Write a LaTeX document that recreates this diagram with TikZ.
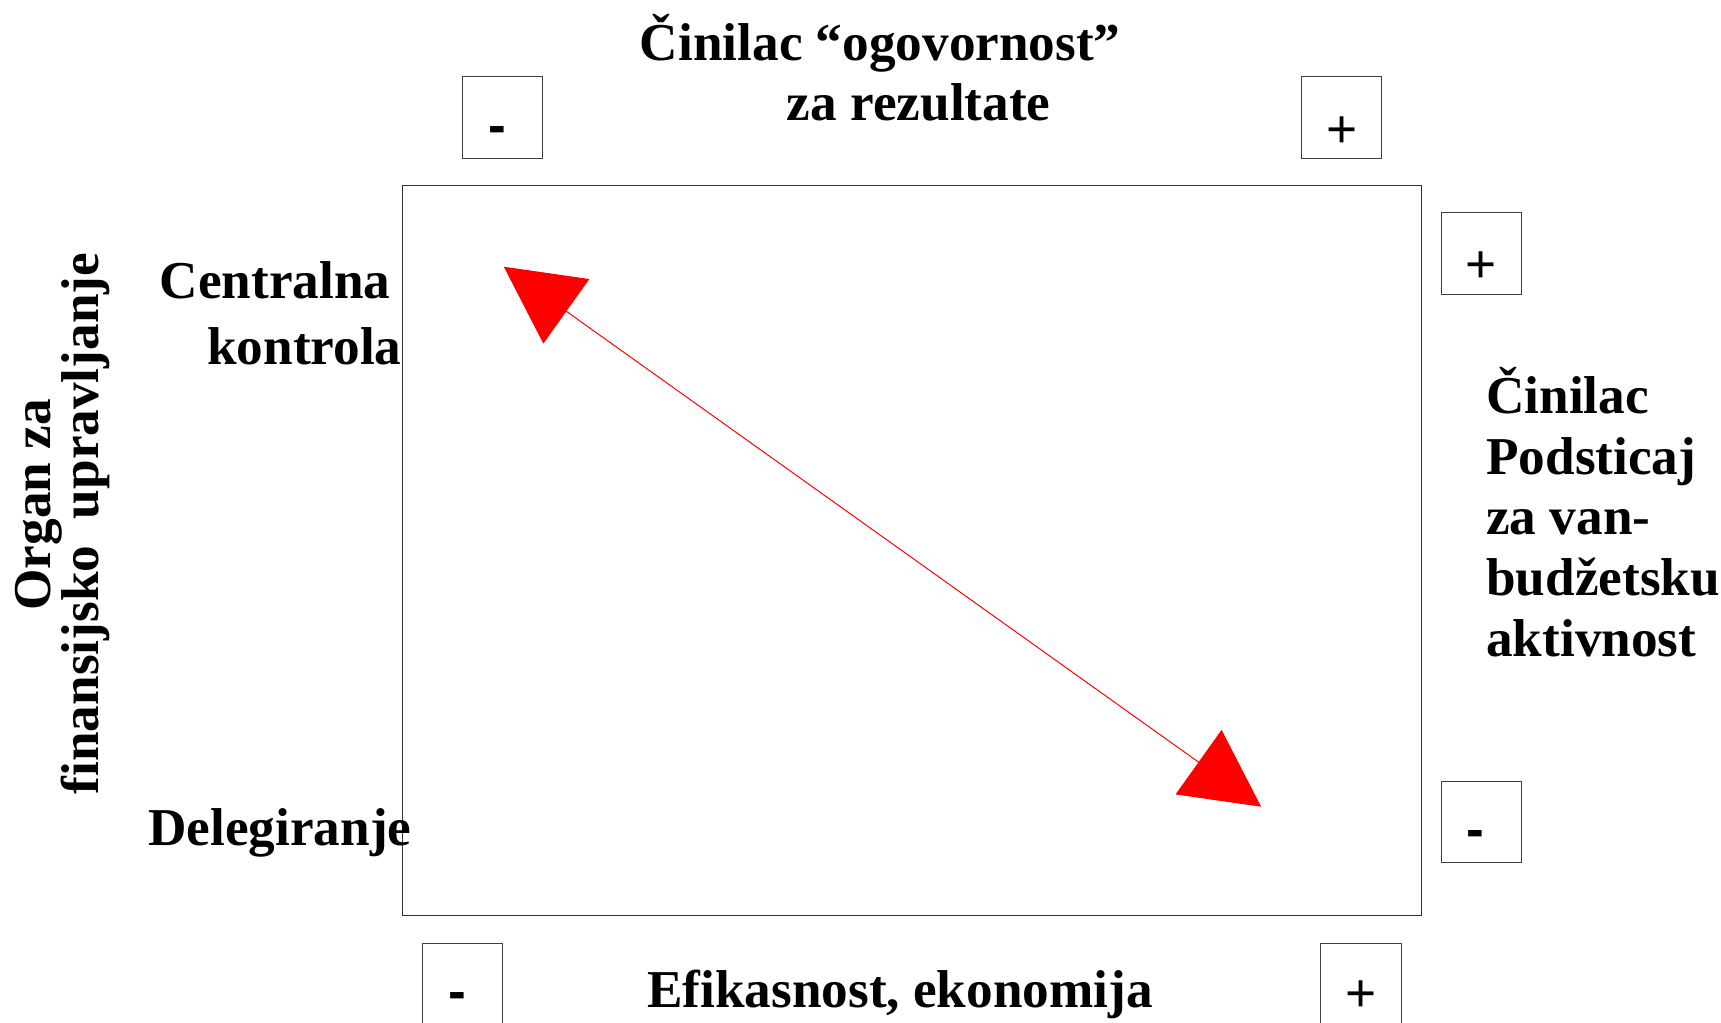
\documentclass[tikz,border=0pt]{standalone}
\usepackage{fontspec}
\setmainfont{Liberation Serif}
\newfontfamily\signfont{Liberation Sans}
\usetikzlibrary{arrows.meta}

\tikzset{
  lbl/.style={font=\fontsize{48.5pt}{55pt}\selectfont\bfseries, inner sep=0pt},
  signbox/.style={draw=black!75, line width=0.9pt, minimum width=73pt, minimum height=74pt, inner sep=0pt},
  plussign/.style={font=\signfont\fontsize{48.5pt}{55pt}\selectfont, inner sep=0pt, anchor=base},
  minussign/.style={font=\signfont\fontsize{48.5pt}{55pt}\selectfont\bfseries, inner sep=0pt, anchor=base},
  frame/.style={draw=black!80, line width=0.9pt},
  bothway/.style={draw=red, line width=0.9pt,
    {Triangle[length=70pt,width=72pt]}-{Triangle[length=70pt,width=72pt]}}
}

\begin{document}
\begin{tikzpicture}[x=1pt,y=1pt]
  \useasboundingbox (0,0) rectangle (1568,-932);

  % main field
  \node[frame, minimum width=928pt, minimum height=665pt, inner sep=0pt] (field) at (831,-501.5) {};

  % top axis title
  \node[lbl, anchor=base] (top1) at (802,-55) {Činilac “ogovornost”};
  \node[lbl, anchor=base] (top2) at (837,-110) {za rezultate};

  % bottom axis title
  \node[lbl, anchor=base] (bottom) at (820,-918) {Efikasnost, ekonomija};

  % left row labels
  \node[lbl, anchor=base east] (central1) at (356,-272) {Centralna};
  \node[lbl, anchor=base east] (central2) at (366,-332) {kontrola};
  \node[lbl, anchor=base west] (deleg) at (135,-770) {Delegiranje};

  % left axis title (rotated)
  \node[lbl, rotate=90, anchor=base] (org1) at (46,-460) {Organ za};
  \node[lbl, rotate=90, anchor=base] (org2) at (90,-477) {finansijsko\ \ upravljanje};

  % right axis title
  \node[lbl, anchor=base west] (r1) at (1354,-377) {Činilac};
  \node[lbl, anchor=base west] (r2) at (1354,-432) {Podsticaj};
  \node[lbl, anchor=base west] (r3) at (1354,-487) {za van-};
  \node[lbl, anchor=base west] (r4) at (1354,-543) {budžetsku};
  \node[lbl, anchor=base west] (r5) at (1354,-598) {aktivnost};

  % sign boxes
  \node[signbox] (tminus) at (457.5,-107) {};
  \node[signbox] (tplus)  at (1222,-107) {};
  \node[signbox] (rplus)  at (1349.5,-231) {};
  \node[signbox] (rminus) at (1349.5,-749) {};
  \node[signbox] (bminus) at (421.5,-897) {};
  \node[signbox] (bplus)  at (1240,-897) {};

  \node[minussign] (tminuss) at ([xshift=-4.5pt,yshift=-23.8pt]tminus.center) {-};
  \node[plussign]  (tpluss)  at ([xshift=0.5pt,yshift=-27pt]tplus.center) {+};
  \node[plussign]  (rpluss)  at ([xshift=-0.5pt,yshift=-26.5pt]rplus.center) {+};
  \node[minussign] (rminuss) at ([xshift=-5.2pt,yshift=-22.8pt]rminus.center) {-};
  \node[minussign] (bminuss) at ([xshift=-4.5pt,yshift=-23pt]bminus.center) {-};
  \node[plussign]  (bpluss)  at ([yshift=-25pt]bplus.center) {+};

  % two-way arrow between the corners
  \coordinate (ctrl) at (459,-243);
  \coordinate (dele) at (1149,-735);
  \draw[bothway] (ctrl) -- (dele);
\end{tikzpicture}
\end{document}
